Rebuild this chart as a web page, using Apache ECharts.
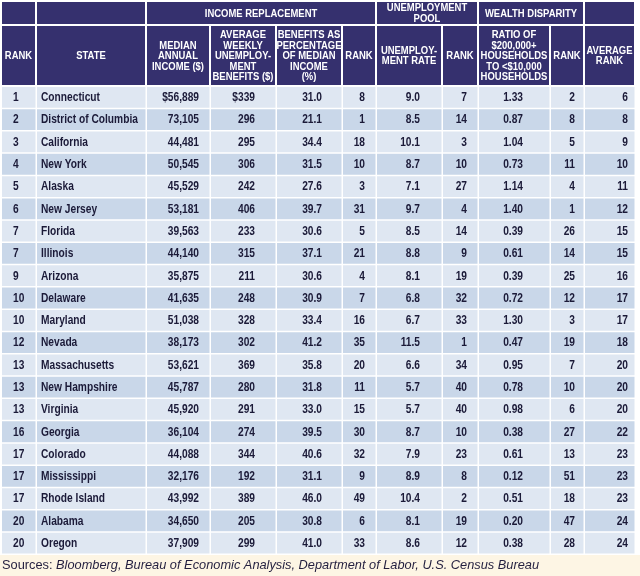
<!DOCTYPE html>
<html><head><meta charset="utf-8">
<script src="https://cdn.jsdelivr.net/npm/echarts@6/dist/echarts.min.js"></script>
<style>html,body{margin:0;padding:0;background:#fff}#c{width:640px;height:576px}</style>
</head><body><div id="c"></div>
<script>
// ---- data ----
const ranks = [1,2,3,4,5,6,7,7,9,10,10,12,13,13,13,16,17,17,17,20,20];
const states = ['Connecticut','District of Columbia','California','New York','Alaska','New Jersey','Florida','Illinois','Arizona','Delaware','Maryland','Nevada','Massachusetts','New Hampshire','Virginia','Georgia','Colorado','Mississippi','Rhode Island','Alabama','Oregon'];
const medianIncome = [56889,73105,44481,50545,45529,53181,39563,44140,35875,41635,51038,38173,53621,45787,45920,36104,44088,32176,43992,34650,37909];
const weeklyBenefits = [339,296,295,306,242,406,233,315,211,248,328,302,369,280,291,274,344,192,389,205,299];
const benefitsPct = [31.0,21.1,34.4,31.5,27.6,39.7,30.6,37.1,30.6,30.9,33.4,41.2,35.8,31.8,33.0,39.5,40.6,31.1,46.0,30.8,41.0];
const incomeRank = [8,1,18,10,3,31,5,21,4,7,16,35,20,11,15,30,32,9,49,6,33];
const unempRate = [9.0,8.5,10.1,8.7,7.1,9.7,8.5,8.8,8.1,6.8,6.7,11.5,6.6,5.7,5.7,8.7,7.9,8.9,10.4,8.1,8.6];
const unempRank = [7,14,3,10,27,4,14,9,19,32,33,1,34,40,40,10,23,8,2,19,12];
const wealthRatio = [1.33,0.87,1.04,0.73,1.14,1.40,0.39,0.61,0.39,0.72,1.30,0.47,0.95,0.78,0.98,0.38,0.61,0.12,0.51,0.20,0.38];
const wealthRank = [2,8,5,11,4,1,26,14,25,12,3,19,7,10,6,27,13,51,18,47,28];
const avgRank = [6,8,9,10,11,12,15,15,16,17,17,18,20,20,20,22,23,23,23,24,24];

const groupHeaders = [
  {text:'', from:0, to:0},
  {text:'', from:1, to:1},
  {text:'INCOME REPLACEMENT', from:2, to:5},
  {text:'UNEMPLOYMENT\nPOOL', from:6, to:7},
  {text:'WEALTH DISPARITY', from:8, to:9},
  {text:'', from:10, to:10}
];
const columnHeaders = ['RANK','STATE','MEDIAN\nANNUAL\nINCOME ($)','AVERAGE\nWEEKLY\nUNEMPLOY-\nMENT\nBENEFITS ($)','BENEFITS AS\nPERCENTAGE\nOF MEDIAN\nINCOME\n(%)','RANK','UNEMPLOY-\nMENT RATE','RANK','RATIO OF\n$200,000+\nHOUSEHOLDS\nTO <$10,000\nHOUSEHOLDS','RANK','AVERAGE\nRANK'];
const sourceLabel = 'Sources:';
const sourceText = 'Bloomberg, Bureau of Economic Analysis, Department of Labor, U.S. Census Bureau';

// ---- layout ----
const colWidths = [35,110,64,66,66,34,66,36,72,34,51];
const colAlign = ['left','left','right','right','right','right','right','right','right','right','right'];
const colInset = [11,4,12,22,21,12,23,12,28,10,8];
const headRows = [24,61];
const nData = states.length;
const dataRowH = 22.29;
const colEdges = [0]; colWidths.forEach(w=>colEdges.push(colEdges[colEdges.length-1]+w));
const rowEdges = [0, headRows[0], headRows[0]+headRows[1]];
for (let i=0;i<nData;i++) rowEdges.push(rowEdges[2]+(i+1)*dataRowH);
const totalW = colEdges[colEdges.length-1];
const totalH = rowEdges[rowEdges.length-1];

const fmtInt = v => v.toLocaleString('en-US');
const rowsText = states.map((s,i)=>[
  String(ranks[i]), s,
  (i===0?'$':'')+fmtInt(medianIncome[i]),
  (i===0?'$':'')+weeklyBenefits[i],
  benefitsPct[i].toFixed(1), String(incomeRank[i]),
  unempRate[i].toFixed(1), String(unempRank[i]),
  wealthRatio[i].toFixed(2), String(wealthRank[i]), String(avgRank[i])
]);

// cells: [colFrom, colTo, row, kind]
const cells = []; const cellText = [];
groupHeaders.forEach(g=>{cells.push([g.from,g.to,0,0]); cellText.push(g.text);});
columnHeaders.forEach((h,c)=>{cells.push([c,c,1,1]); cellText.push(h);});
rowsText.forEach((r,i)=>r.forEach((t,c)=>{cells.push([c,c,i+2,2]); cellText.push(t);}));

const HEAD_BG = '#35306e', ROW_A = '#dfe7f2', ROW_B = '#c9d7e9', TXT = '#1b1a38';
const FONT = '"Liberation Sans",Arial,sans-serif';

function renderItem(params, api){
  const c0 = api.value(0), c1 = api.value(1), r = api.value(2), kind = api.value(3);
  const p0 = api.coord([colEdges[c0], rowEdges[r]]);
  const p1 = api.coord([colEdges[c1+1], rowEdges[r+1]]);
  const gap = kind===2 ? 1.5 : 2;
  const w = p1[0]-p0[0]-gap, h = p1[1]-p0[1]-gap;
  const txt = cellText[params.dataIndex];
  let fill;
  if (kind<2) fill = HEAD_BG; else fill = ((r-2)%2===0) ? ROW_A : ROW_B;
  const children = [{type:'rect', shape:{x:p0[0], y:p0[1], width:w, height:h}, style:{fill:fill}}];
  if (txt) {
    let tx, align;
    if (kind<2) { tx = p0[0]+w/2; align='center'; }
    else {
      align = colAlign[c0];
      tx = align==='left' ? p0[0]+colInset[c0] : p0[0]+w+gap-colInset[c0];
    }
    children.push({type:'text', x: tx, y: p0[1]+h/2+0.5,
      scaleX: kind<2 ? 0.86 : 0.85, scaleY: 1,
      style:{
      text: txt, x: 0, y: 0, align: align, verticalAlign:'middle',
      fill: kind<2 ? '#ffffff' : TXT,
      font: 'bold ' + (kind<2 ? '11px ' : '12px ') + FONT,
      lineHeight: kind<2 ? 10.5 : 12
    }});
  }
  return {type:'group', children};
}

const chart = echarts.init(document.getElementById('c'), null, {renderer:'canvas'});
chart.setOption({
  backgroundColor:'#ffffff',
  animation:false,
  grid:{left:2, top:2, width:totalW, height:totalH},
  xAxis:{type:'value', min:0, max:totalW, show:false},
  yAxis:{type:'value', min:0, max:totalH, inverse:true, show:false},
  graphic:[{type:'rect', left:0, top:555, shape:{width:640, height:21}, style:{fill:'#fdf5e4'}, z:-1}],
  title:{
    text:'{n|'+sourceLabel+' }{i|'+sourceText+'}',
    left:2, top:559, padding:0,
    textStyle:{fontWeight:'normal', rich:{
      n:{fontFamily:'"Liberation Sans",Arial,sans-serif', fontWeight:'normal', fontSize:12.8, color:'#231f3f'},
      i:{fontFamily:'"Liberation Sans",Arial,sans-serif', fontWeight:'normal', fontSize:12.8, fontStyle:'italic', color:'#231f3f'}
    }}
  },
  series:[{
    type:'custom', coordinateSystem:'cartesian2d', renderItem:renderItem,
    data:cells, encode:{x:[0,1], y:2}, clip:false
  }]
});
</script></body></html>
